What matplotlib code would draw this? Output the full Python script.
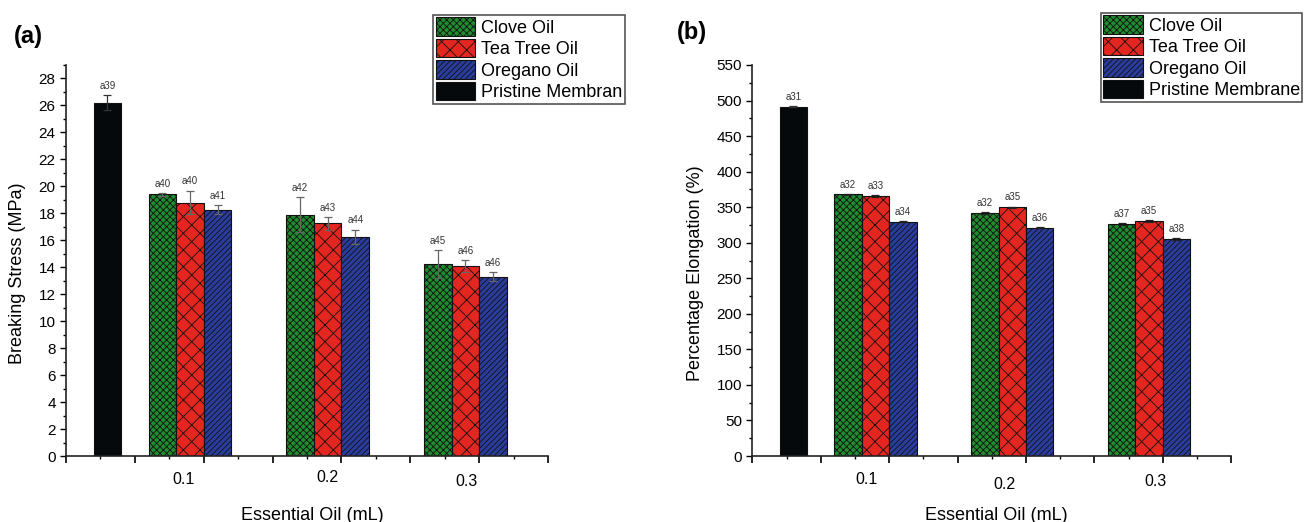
import matplotlib
matplotlib.use('Agg')
import matplotlib.pyplot as plt
from matplotlib.ticker import MultipleLocator

plt.rcParams['font.family'] = ['Liberation Sans', 'DejaVu Sans']
plt.rcParams['hatch.linewidth'] = 0.6

# 데이터 (a) Breaking Stress
oil_labels = ['0.1', '0.2', '0.3']
series_names = ['Clove Oil', 'Tea Tree Oil', 'Oregano Oil']

stress_pristine = 26.2
stress_pristine_err = 0.55
stress_pristine_tag = 'a39'
stress_clove = [19.4, 17.9, 14.25]
stress_tea = [18.8, 17.25, 14.1]
stress_oregano = [18.28, 16.25, 13.3]
stress_clove_err = [0.08, 1.3, 1.03]
stress_tea_err = [0.88, 0.5, 0.42]
stress_oregano_err = [0.32, 0.54, 0.35]
stress_clove_tags = ['a40', 'a42', 'a45']
stress_tea_tags = ['a40', 'a43', 'a46']
stress_oregano_tags = ['a41', 'a44', 'a46']

# 데이터 (b) Percentage Elongation
elong_pristine = 491.5
elong_pristine_err = 0.5
elong_pristine_tag = 'a31'
elong_clove = [368.0, 342.0, 326.7]
elong_tea = [365.3, 349.8, 330.4]
elong_oregano = [329.5, 321.0, 305.2]
elong_clove_err = [1.0, 1.5, 1.5]
elong_tea_err = [1.2, 1.0, 1.0]
elong_oregano_err = [0.5, 0.5, 1.0]
elong_clove_tags = ['a32', 'a32', 'a37']
elong_tea_tags = ['a33', 'a35', 'a35']
elong_oregano_tags = ['a34', 'a36', 'a38']

colors = ['#1f8c30', '#e3261f', '#2a3d9c']
hatches = ['xxxxx', 'xx', '//////']
group_x = [1.8, 3.8, 5.8]
offsets = [-0.4, 0.0, 0.4]
bar_w = 0.4


def draw_panel(ax, pristine, pristine_err, pristine_tag, series, errs, tags,
               err_color, ymax, ymajor, yminor, label_x, label_y, ylabel, ylabel_x):
    bars = []
    for i in range(3):
        xs = [g + offsets[i] for g in group_x]
        b = ax.bar(xs, series[i], bar_w, color=colors[i], hatch=hatches[i],
                   edgecolor='#111111', linewidth=0.8, label=series_names[i], zorder=2)
        ax.errorbar(xs, series[i], yerr=errs[i], fmt='none', ecolor=err_color,
                    elinewidth=0.9, capsize=3, capthick=0.9, zorder=3)
        for x, v, e, t in zip(xs, series[i], errs[i], tags[i]):
            ax.annotate(t, (x, v + e), xytext=(0, 3), textcoords='offset points',
                        ha='center', va='bottom', fontsize=7, color='#333333')
        bars.append(b)
    b = ax.bar([0.6], [pristine], bar_w, color='#05090b', edgecolor='#111111',
               linewidth=0.8, zorder=2)
    ax.errorbar([0.6], [pristine], yerr=[pristine_err], fmt='none', ecolor='#333333',
                elinewidth=0.9, capsize=3, capthick=0.9, zorder=3)
    ax.annotate(pristine_tag, (0.6, pristine + pristine_err), xytext=(0, 3),
                textcoords='offset points', ha='center', va='bottom', fontsize=7,
                color='#333333')
    bars.append(b)

    ax.set_xlim(0, 7)
    ax.set_ylim(0, ymax)
    ax.xaxis.set_major_locator(MultipleLocator(1))
    ax.xaxis.set_minor_locator(MultipleLocator(0.5))
    ax.yaxis.set_major_locator(MultipleLocator(ymajor))
    ax.yaxis.set_minor_locator(MultipleLocator(yminor))
    ax.set_xticklabels([])
    ax.tick_params(axis='x', which='major', direction='out', length=5, width=1.2)
    ax.tick_params(axis='x', which='minor', direction='out', length=2.5, width=1)
    ax.tick_params(axis='y', which='major', direction='out', length=4, width=1, labelsize=11)
    ax.tick_params(axis='y', which='minor', direction='out', length=2, width=1)
    for s in ['top', 'right']:
        ax.spines[s].set_visible(False)
    for s in ['left', 'bottom']:
        ax.spines[s].set_linewidth(1.2)
        ax.spines[s].set_color('#222222')

    # x 눈금 라벨 (원본처럼 막대 그룹 기준으로 조금 어긋나 있음)
    for lx, ly, lab in zip(label_x, label_y, oil_labels):
        ax.text(lx, ly, lab, transform=ax.get_xaxis_transform(), ha='center',
                va='center', fontsize=11.5)

    ax.set_xlabel('Essential Oil (mL)', fontsize=13)
    ax.xaxis.set_label_coords(0.51, -0.13)
    ax.set_ylabel(ylabel, fontsize=13)
    ax.yaxis.set_label_coords(ylabel_x, 0.468)
    return bars


fig = plt.figure(figsize=(13.08, 5.22), dpi=100)
ax1 = fig.add_axes([0.0505, 0.1264, 0.3685, 0.7491])
ax2 = fig.add_axes([0.5752, 0.1264, 0.3661, 0.7491])

bars1 = draw_panel(ax1, stress_pristine, stress_pristine_err, stress_pristine_tag,
                   [stress_clove, stress_tea, stress_oregano],
                   [stress_clove_err, stress_tea_err, stress_oregano_err],
                   [stress_clove_tags, stress_tea_tags, stress_oregano_tags],
                   '#666666', 29, 2, 1,
                   [1.705, 3.80, 5.82], [-0.059, -0.056, -0.066],
                   'Breaking Stress (MPa)', -0.083)
bars2 = draw_panel(ax2, elong_pristine, elong_pristine_err, elong_pristine_tag,
                   [elong_clove, elong_tea, elong_oregano],
                   [elong_clove_err, elong_tea_err, elong_oregano_err],
                   [elong_clove_tags, elong_tea_tags, elong_oregano_tags],
                   '#222222', 550, 50, 25,
                   [1.67, 3.69, 5.90], [-0.061, -0.072, -0.066],
                   'Percentage Elongation (%)', -0.101)

leg_kw = dict(fontsize=13, handlelength=2.2, handleheight=1.2, labelspacing=0.12,
              handletextpad=0.3, borderpad=0.15, borderaxespad=0, fancybox=False,
              framealpha=1, edgecolor='#555555', loc='upper left')
leg1 = fig.legend(bars1, series_names + ['Pristine Membran'],
                  bbox_to_anchor=(0.331, 0.972), **leg_kw)
leg2 = fig.legend(bars2, series_names + ['Pristine Membrane'],
                  bbox_to_anchor=(0.8415, 0.976), **leg_kw)
for leg in [leg1, leg2]:
    leg.get_frame().set_linewidth(1.2)

fig.text(0.0214, 0.931, '(a)', fontsize=17, fontweight='bold', ha='center', va='center')
fig.text(0.529, 0.937, '(b)', fontsize=17, fontweight='bold', ha='center', va='center')

fig.savefig('out.png', dpi=100)
